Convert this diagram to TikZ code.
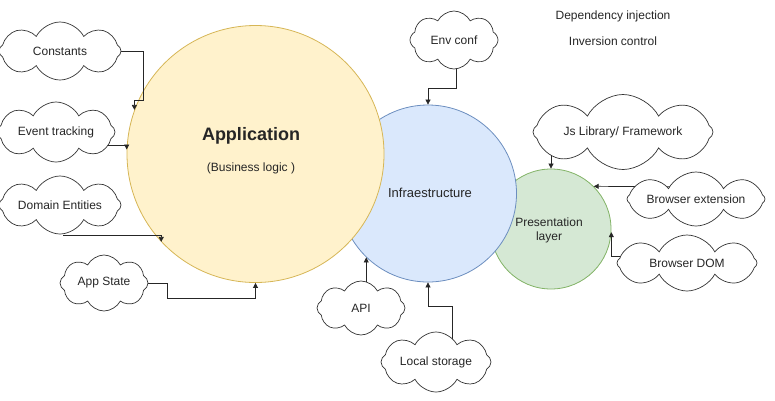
\documentclass[tikz,border=0pt]{standalone}
\usepackage{fontspec}
\setmainfont{Liberation Sans}
\usetikzlibrary{shapes.symbols,arrows.meta}
\definecolor{appfill}{HTML}{FFF2CC}
\definecolor{appline}{HTML}{D6B656}
\definecolor{inffill}{HTML}{DAE8FC}
\definecolor{infline}{HTML}{6C8EBF}
\definecolor{prefill}{HTML}{D5E8D4}
\definecolor{preline}{HTML}{82B366}
\definecolor{txt}{HTML}{262626}
\begin{document}
\begin{tikzpicture}[x=1pt,y=-1pt,
  layer/.style={circle,draw,line width=0.8pt,inner sep=0pt,text=txt},
  plain/.style={text=txt,font=\fontsize{12}{14}\selectfont,inner sep=0pt},
  cl/.style n args={4}{cloud,cloud puffs=8,cloud puff arc=125,draw=black!80,fill=white,line width=0.7pt,inner sep=0pt,
     minimum width=#1pt,minimum height=#2pt,aspect=#3,label={[plain]center:#4}},
  arr/.style={draw=black!85,line width=0.7pt,-{Triangle[width=5pt,length=5pt]}}]
\useasboundingbox (0,0) rectangle (775,400);
% circles
\node[layer,fill=prefill,draw=preline,minimum size=120pt] (pres) at (551,229) {};
\node[layer,fill=inffill,draw=infline,minimum size=177pt] (inf) at (428,193.5) {};
\node[layer,fill=appfill,draw=appline,minimum size=257pt] (app) at (255.5,154) {};
\node[plain,font=\fontsize{18}{20}\selectfont\bfseries] (apptitle) at (251,136) {Application};
\node[plain] (appsub) at (251,168) {(Business logic )};
\node[plain,font=\fontsize{13}{15}\selectfont] (inftitle) at (430,193) {Infraestructure};
\node[plain,align=center] (prestitle) at (549,230) {Presentation\\layer};
% top right texts
\node[plain] (di) at (613,16) {Dependency injection};
\node[plain] (ic) at (613,41) {Inversion control};
% connectors
\coordinate (cbend) at (143,100);
\coordinate (abend) at (167,298);
\draw[arr] (60,51) -| (cbend) -| (app.160);
\draw[arr] (56,145) -| (app.178);
\draw[arr] (63,235) -| (app.223);
\draw[arr] (104,283) -| (abend) -| (app.south);
\draw[arr] (456,40) -- (456,88) -| (inf.north);
\draw[arr] (inf.-134 |- 361,308) -- (inf.-134);
\draw[arr] (452,362) -- (452,306) -| (inf.south);
\draw[arr] (pres.north |- 623,132) -- (pres.north);
\draw[arr] (696,187) -- (pres.45);
\draw[arr] (687,256) -| (pres.-3);
% clouds
\node[cl={122}{58}{2.10}{Constants}] (const) at (60,51) {};
\node[cl={118}{60}{1.97}{Event tracking}] (evt) at (56,132) {};
\node[cl={122}{58}{2.10}{Domain Entities}] (dom) at (60,205) {};
\node[cl={88}{56}{1.57}{App State}] (apps) at (104,283) {};
\node[cl={88}{58}{1.52}{Env conf}] (env) at (454,40) {};
\node[cl={88}{54}{1.63}{API}] (api) at (361,308) {};
\node[cl={110}{60}{1.83}{Local storage}] (ls) at (436,362) {};
\node[cl={180}{75}{2.4}{Js Library/ Framework}] (js) at (623,132) {};
\node[cl={138}{54}{2.56}{Browser extension}] (bext) at (696,199) {};
\node[cl={140}{56}{2.5}{Browser DOM}] (bdom) at (687,263) {};
\end{tikzpicture}
\end{document}
